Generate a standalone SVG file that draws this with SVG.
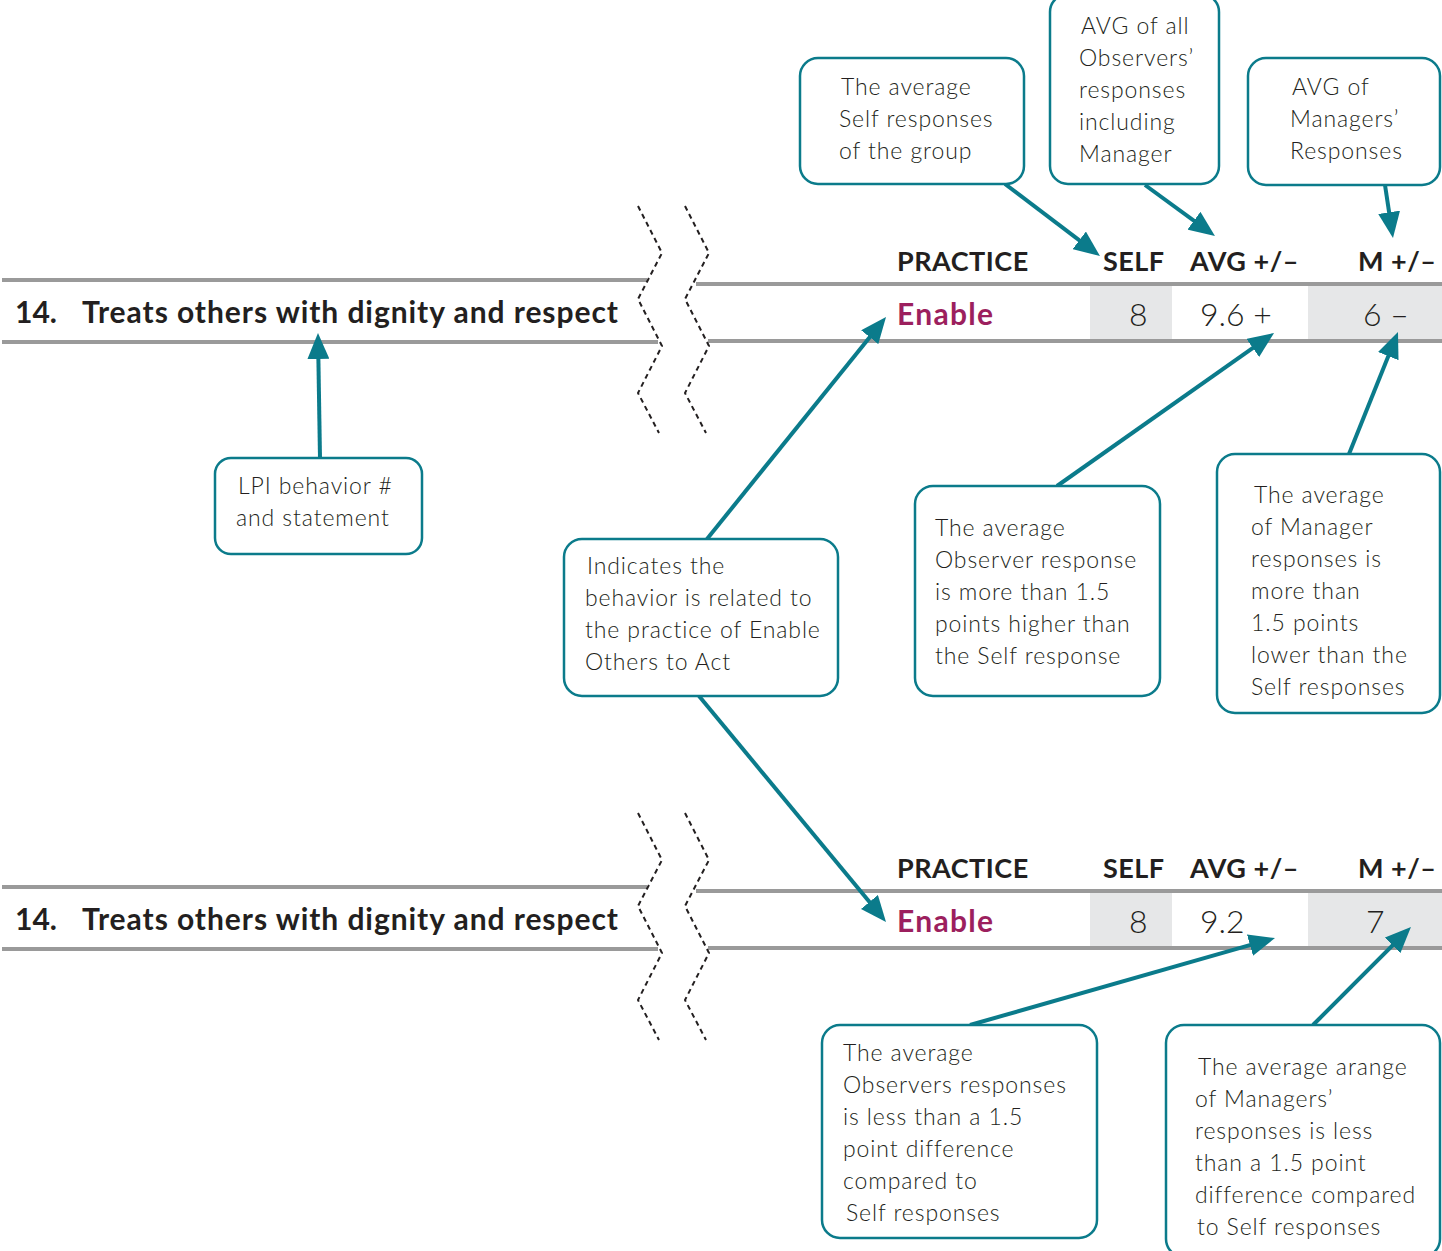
<svg xmlns="http://www.w3.org/2000/svg" width="1442" height="1251" viewBox="0 0 1442 1251">
<defs>
<style>
.rule{stroke:#9a9a9a;stroke-width:4;fill:none}
.cell{fill:#e6e7e8}
.zig{stroke:#231f20;stroke-width:2;stroke-dasharray:5,4;fill:none}
.title{font-family:Lato,"Liberation Sans",sans-serif;font-weight:700;font-size:30px;fill:#231f20}
.hdr{font-family:Lato,"Liberation Sans",sans-serif;font-weight:700;font-size:27px;letter-spacing:0.5px;fill:#231f20}
.prac{font-family:Lato,"Liberation Sans",sans-serif;font-weight:700;font-size:30px;letter-spacing:1.3px;fill:#9c1f5e}
.val{font-family:Lato,"Liberation Sans",sans-serif;font-weight:300;font-size:32px;fill:#231f20}
.box{fill:#fff;stroke:#0b7b8b;stroke-width:2.5}
.lbl{font-family:Lato,"Liberation Sans",sans-serif;font-weight:300;font-size:23px;letter-spacing:0.9px;fill:#231f20}
.arr{stroke:#0b7b8b;stroke-width:4;fill:none;marker-end:url(#ah)}
</style>
<marker id="ah" viewBox="0 0 26 22" refX="18" refY="11" markerWidth="26" markerHeight="22" markerUnits="userSpaceOnUse" orient="auto">
<path d="M0,0 L26,11 L0,22 z" fill="#0b7b8b"/>
</marker>
</defs>

<g id="row1">
<rect class="cell" x="1090" y="286" width="82" height="54"/>
<rect class="cell" x="1308" y="286" width="134" height="54"/>
<line class="rule" x1="2" y1="280" x2="647" y2="280"/>
<line class="rule" x1="696" y1="284" x2="1442" y2="284"/>
<line class="rule" x1="2" y1="342" x2="658" y2="342"/>
<line class="rule" x1="708" y1="341" x2="1442" y2="341"/>
<polyline class="zig" points="638,206 662,253 638,299 662,346 638,393 659,433"/>
<polyline class="zig" points="685,206 709,253 685,299 709,346 685,393 706,433"/>
<text class="title" x="15" y="323">14.</text>
<text class="title" x="82" y="323" textLength="536" lengthAdjust="spacing">Treats others with dignity and respect</text>
<text class="hdr" x="897" y="271">PRACTICE</text>
<text class="hdr" x="1103" y="271">SELF</text>
<text class="hdr" x="1190" y="271">AVG +/–</text>
<text class="hdr" x="1358" y="271">M +/–</text>
<text class="prac" x="897" y="325">Enable</text>
<text class="val" x="1129" y="326">8</text>
<text class="val" x="1200" y="326">9.6 +</text>
<text class="val" x="1363" y="326">6 –</text>
</g>

<g id="row2">
<rect class="cell" x="1090" y="893" width="82" height="54"/>
<rect class="cell" x="1308" y="893" width="134" height="54"/>
<line class="rule" x1="2" y1="887" x2="647" y2="887"/>
<line class="rule" x1="696" y1="891" x2="1442" y2="891"/>
<line class="rule" x1="2" y1="949" x2="658" y2="949"/>
<line class="rule" x1="708" y1="948" x2="1442" y2="948"/>
<polyline class="zig" points="638,813 662,860 638,906 662,953 638,1000 659,1040"/>
<polyline class="zig" points="685,813 709,860 685,906 709,953 685,1000 706,1040"/>
<text class="title" x="15" y="930">14.</text>
<text class="title" x="82" y="930" textLength="536" lengthAdjust="spacing">Treats others with dignity and respect</text>
<text class="hdr" x="897" y="878">PRACTICE</text>
<text class="hdr" x="1103" y="878">SELF</text>
<text class="hdr" x="1190" y="878">AVG +/–</text>
<text class="hdr" x="1358" y="878">M +/–</text>
<text class="prac" x="897" y="932">Enable</text>
<text class="val" x="1129" y="933">8</text>
<text class="val" x="1200" y="933">9.2</text>
<text class="val" x="1366" y="933">7</text>
</g>

<g id="connectors">
<line class="arr" x1="1005" y1="184" x2="1093.6" y2="251.2"/>
<line class="arr" x1="1145" y1="185" x2="1208.5" y2="231.3"/>
<line class="arr" x1="1385" y1="185" x2="1391.8" y2="230.1"/>
<line class="arr" x1="320" y1="458" x2="318.1" y2="341"/>
<line class="arr" x1="707" y1="539" x2="881" y2="323.2"/>
<line class="arr" x1="1057" y1="486" x2="1267.5" y2="337.6"/>
<line class="arr" x1="1349" y1="454" x2="1395" y2="339.4"/>
<line class="arr" x1="699" y1="696" x2="880.9" y2="915.8"/>
<line class="arr" x1="970" y1="1025" x2="1267.3" y2="940.2"/>
<line class="arr" x1="1313" y1="1025" x2="1405.3" y2="932.7"/>
</g>

<g id="n-self">
<rect class="box" x="800" y="58" width="224" height="126" rx="18"/>
<text class="lbl" x="841" y="95">The average</text>
<text class="lbl" x="839" y="127">Self responses</text>
<text class="lbl" x="839" y="159">of the group</text>
</g>
<g id="n-avg">
<rect class="box" x="1050" y="-6" width="169" height="190" rx="18"/>
<text class="lbl" x="1081" y="34">AVG of all</text>
<text class="lbl" x="1079" y="66">Observers’</text>
<text class="lbl" x="1079" y="98">responses</text>
<text class="lbl" x="1079" y="130">including</text>
<text class="lbl" x="1079" y="162">Manager</text>
</g>
<g id="n-mgr">
<rect class="box" x="1248" y="58" width="192" height="127" rx="18"/>
<text class="lbl" x="1292" y="95">AVG of</text>
<text class="lbl" x="1290" y="127">Managers’</text>
<text class="lbl" x="1290" y="159">Responses</text>
</g>
<g id="n-lpi">
<rect class="box" x="215" y="458" width="207" height="96" rx="16"/>
<text class="lbl" x="238" y="494">LPI behavior #</text>
<text class="lbl" x="236" y="526">and statement</text>
</g>
<g id="n-practice">
<rect class="box" x="564" y="539" width="274" height="157" rx="18"/>
<text class="lbl" x="587" y="574">Indicates the</text>
<text class="lbl" x="585" y="606">behavior is related to</text>
<text class="lbl" x="585" y="638">the practice of Enable</text>
<text class="lbl" x="585" y="670">Others to Act</text>
</g>
<g id="n-obs-high">
<rect class="box" x="915" y="486" width="245" height="210" rx="18"/>
<text class="lbl" x="935" y="536">The average</text>
<text class="lbl" x="935" y="568">Observer response</text>
<text class="lbl" x="935" y="600">is more than 1.5</text>
<text class="lbl" x="935" y="632">points higher than</text>
<text class="lbl" x="935" y="664">the Self response</text>
</g>
<g id="n-mgr-low">
<rect class="box" x="1217" y="454" width="223" height="259" rx="18"/>
<text class="lbl" x="1254" y="503">The average</text>
<text class="lbl" x="1251" y="535">of Manager</text>
<text class="lbl" x="1251" y="567">responses is</text>
<text class="lbl" x="1251" y="599">more than</text>
<text class="lbl" x="1251" y="631">1.5 points</text>
<text class="lbl" x="1251" y="663">lower than the</text>
<text class="lbl" x="1251" y="695">Self responses</text>
</g>
<g id="n-obs-less">
<rect class="box" x="822" y="1025" width="275" height="213" rx="18"/>
<text class="lbl" x="843" y="1061">The average</text>
<text class="lbl" x="843" y="1093">Observers responses</text>
<text class="lbl" x="843" y="1125">is less than a 1.5</text>
<text class="lbl" x="843" y="1157">point difference</text>
<text class="lbl" x="843" y="1189">compared to</text>
<text class="lbl" x="846" y="1221">Self responses</text>
</g>
<g id="n-mgr-less">
<rect class="box" x="1166" y="1025" width="274" height="232" rx="18"/>
<text class="lbl" x="1198" y="1075">The average arange</text>
<text class="lbl" x="1195" y="1107">of Managers’</text>
<text class="lbl" x="1195" y="1139">responses is less</text>
<text class="lbl" x="1195" y="1171">than a 1.5 point</text>
<text class="lbl" x="1195" y="1203">difference compared</text>
<text class="lbl" x="1197" y="1235">to Self responses</text>
</g>
</svg>
